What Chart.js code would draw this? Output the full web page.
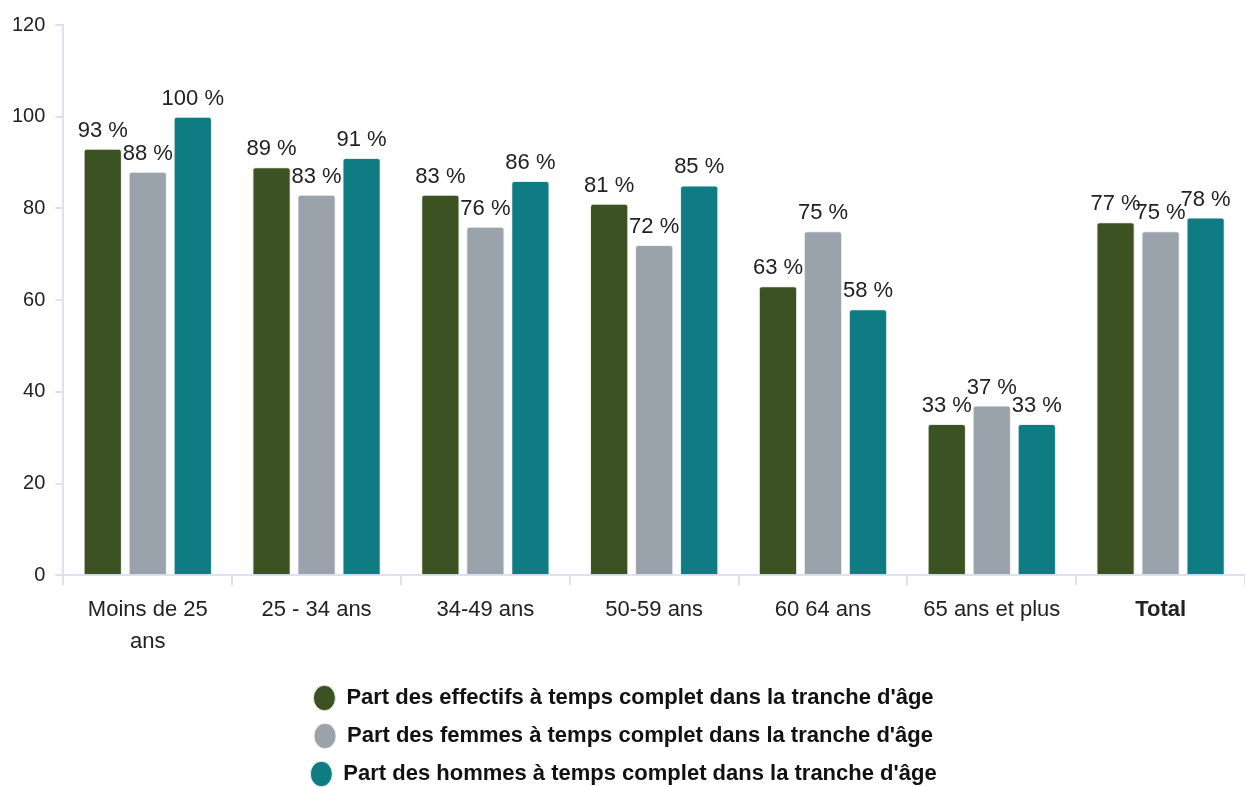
<!DOCTYPE html>
<html>
<head>
<meta charset="utf-8">
<script src="https://cdn.jsdelivr.net/npm/chart.js@4"></script>
<style>
  html, body { margin: 0; padding: 0; background: #fff; }
  #wrap { width: 1245px; height: 787px; }
</style>
</head>
<body>
<div id="wrap"><canvas id="myChart"></canvas></div>
<script>
// categories (age groups)
let categories = [['Moins de 25', 'ans'], '25 - 34 ans', '34-49 ans', '50-59 ans', '60 64 ans', '65 ans et plus', 'Total'];

// series, in %
let effectifs = [93, 89, 83, 81, 63, 33, 77];
let femmes = [88, 83, 76, 72, 75, 37, 75];
let hommes = [100, 91, 86, 85, 58, 33, 78];

let yTicks = [0, 20, 40, 60, 80, 100, 120];

const axisColor = '#dbe2f1';
const textColor = '#222222';
const fontFam = '"Liberation Sans", Arial, sans-serif';

// draws the "93 %" labels above each bar
const barLabels = {
  id: 'barLabels',
  afterDatasetsDraw(chart) {
    const ctx = chart.ctx;
    ctx.save();
    ctx.font = '22px ' + fontFam;
    ctx.fillStyle = textColor;
    ctx.textAlign = 'center';
    ctx.textBaseline = 'alphabetic';
    chart.data.datasets.forEach((ds, i) => {
      chart.getDatasetMeta(i).data.forEach((bar, j) => {
        ctx.fillText(ds.data[j] + ' %', bar.x, bar.y - 12);
      });
    });
    ctx.restore();
  }
};

const ctx = document.getElementById('myChart');

new Chart(ctx, {
  type: 'bar',
  data: {
    labels: categories,
    datasets: [
      {
        label: "Part des effectifs à temps complet dans la tranche d'âge",
        data: effectifs,
        backgroundColor: '#3d5222',
        borderColor: '#e8ece4',
        borderWidth: 1,
        borderRadius: 3
      },
      {
        label: "Part des femmes à temps complet dans la tranche d'âge",
        data: femmes,
        backgroundColor: '#9aa2ab',
        borderColor: '#eef0f2',
        borderWidth: 1,
        borderRadius: 3
      },
      {
        label: "Part des hommes à temps complet dans la tranche d'âge",
        data: hommes,
        backgroundColor: '#0e7c82',
        borderColor: '#e4f0f0',
        borderWidth: 1,
        borderRadius: 3
      }
    ]
  },
  options: {
    responsive: true,
    maintainAspectRatio: false,
    animation: false,
    categoryPercentage: 0.8,
    barPercentage: 0.85,
    layout: { padding: { top: 25, left: 2, right: 0, bottom: -8 } },
    plugins: {
      tooltip: { enabled: false },
      legend: {
        position: 'bottom',
        title: { display: true, text: '', padding: 0, font: { size: 10, lineHeight: '4px' } },
        labels: {
          usePointStyle: true,
          pointStyle: 'circle',
          boxHeight: 18,
          pointStyleWidth: 22,
          padding: 16,
          color: '#111',
          font: { family: fontFam, size: 22, weight: 'bold' }
        }
      }
    },
    scales: {
      x: {
        border: { color: axisColor, width: 2 },
        grid: { drawOnChartArea: false, drawTicks: true, tickLength: 10, color: axisColor, lineWidth: 2 },
        ticks: {
          color: textColor,
          padding: 9,
          maxRotation: 0,
          font: (c) => ({
            family: fontFam,
            size: 22,
            lineHeight: 1.45,
            weight: c.index === 6 ? 'bold' : 'normal'
          })
        }
      },
      y: {
        min: 0,
        max: 120,
        afterBuildTicks: (axis) => { axis.ticks = yTicks.map(v => ({ value: v })); },
        border: { color: axisColor, width: 2 },
        grid: { drawOnChartArea: false, drawTicks: true, tickLength: 8, color: axisColor, lineWidth: 2 },
        ticks: {
          color: textColor,
          padding: 10,
          font: { family: fontFam, size: 20 }
        }
      }
    }
  },
  plugins: [barLabels]
});
</script>
</body>
</html>
